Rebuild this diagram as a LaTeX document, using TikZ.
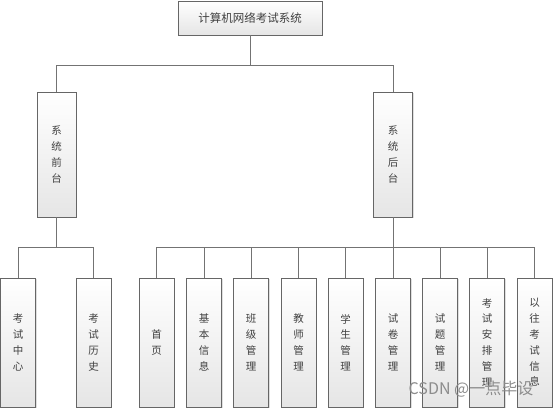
\documentclass[tikz,border=0pt]{standalone}
\usepackage{fontspec}
\setmainfont{Noto Sans CJK SC}
\usetikzlibrary{shadows}

\begin{document}
\begin{tikzpicture}[
				x=1pt,y=-1pt,
				box/.style={draw=black!60, top color=white, bottom color=black!10,
					drop shadow={shadow xshift=1pt,shadow yshift=-1pt,opacity=0.25},
					inner sep=0pt, align=center, text=black!75},
				branch/.style={box, minimum width=39pt, minimum height=125pt,
					font=\fontsize{10.5}{15.8}\selectfont},
				leaf/.style={box, minimum width=35pt, minimum height=129pt,
					font=\fontsize{10.5}{15.8}\selectfont},
				link/.style={draw=black!55, line width=0.8pt}]
				
				\useasboundingbox (0,0) rectangle (554,409);
				
				% Root node
				\node[box, minimum width=144pt, minimum height=34pt,
					font=\fontsize{11.5}{14}\selectfont] (root) at (250,18) {计算机网络考试系统};
				
				% Front and back
				\node[branch] (front) at (56.5,154.5) {系\\统\\前\\台};
				\node[branch] (back) at (393,154.5) {系\\统\\后\\台};
				
				\coordinate (bus1) at (250,65);
				\draw[link] (root.south) -- (bus1) -| (front.north);
				\draw[link] (bus1) -| (back.north);
				
				% Front leaves
				\coordinate (bus2) at (56.5,247);
				\draw[link] (front.south) -- (bus2);
				\foreach \name/\x/\txt in {center/18/{考\\试\\中\\心},
						history/93.5/{考\\试\\历\\史}} {
					\node[leaf] (\name) at (\x,342.5) {\txt};
					\draw[link] (bus2) -| (\name.north);
				}
				
				% Back leaves
				\coordinate (bus3) at (393,247);
				\draw[link] (back.south) -- (bus3);
				\foreach \name/\x/\txt in {home/156.5/{首\\页},
						info/204/{基\\本\\信\\息},
						classes/251/{班\\级\\管\\理},
						teachers/298.5/{教\\师\\管\\理},
						students/345.5/{学\\生\\管\\理},
						papers/393/{试\\卷\\管\\理},
						questions/440/{试\\题\\管\\理},
						schedule/487/{考\\试\\安\\排\\管\\理},
						records/534.5/{以\\往\\考\\试\\信\\息}} {
					\node[leaf] (\name) at (\x,342.5) {\txt};
					\draw[link] (bus3) -| (\name.north);
				}
				
				% Watermark
				\node[text=black!45, font=\fontsize{16}{18}\selectfont] (mark) at (471,389) {CSDN @一点毕设};
			\end{tikzpicture}
\end{document}
